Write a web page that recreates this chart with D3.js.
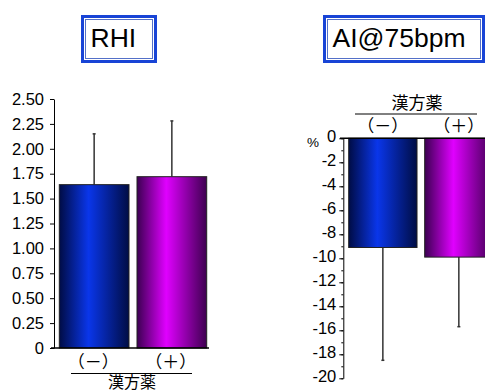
<!DOCTYPE html>
<html>
<head>
<meta charset="utf-8">
<script src="https://cdn.jsdelivr.net/npm/d3@7"></script>
<style>
  body { margin: 0; background: #fff; }
  svg { display: block; font-family: "Liberation Sans", Arial, sans-serif; }
  .tick line, .domain { stroke: #000; }
</style>
</head>
<body>
<div class="vis"></div>
<script>
// groups: without / with kampo medicine
const groups = ["（－）", "（＋）"];
const groupLabel = "漢方薬";

// RHI panel
const rhiMean = [1.64, 1.72];
const rhiSD = [0.51, 0.56];
const rhiTicks = [0, 0.25, 0.5, 0.75, 1, 1.25, 1.5, 1.75, 2, 2.25, 2.5];

// AI@75bpm panel (%)
const aiMean = [-9.1, -9.9];
const aiSD = [9.4, 5.8];
const aiTicks = [0, -2, -4, -6, -8, -10, -12, -14, -16, -18, -20];

const colors = [
  ["#000c45", "#0a36ea", "#000d45"],
  ["#3c0052", "#e000ff", "#3e0050"]
];

const width = 485, height = 391;
const svg = d3.select(".vis").append("svg")
  .attr("width", width).attr("height", height);

// gradients for the bars
const defs = svg.append("defs");
colors.forEach((c, i) => {
  const g = defs.append("linearGradient")
    .attr("id", "grad" + i)
    .attr("x1", 0).attr("x2", 1).attr("y1", 0).attr("y2", 0);
  g.append("stop").attr("offset", "0%").attr("stop-color", c[0]);
  g.append("stop").attr("offset", "42%").attr("stop-color", c[1]);
  g.append("stop").attr("offset", "100%").attr("stop-color", c[2]);
});

function titleBox(x, y, w, h, text) {
  svg.append("rect").attr("x", x + 1.5).attr("y", y + 1.5)
    .attr("width", w - 3).attr("height", h - 3)
    .attr("fill", "#fff").attr("stroke", "#1844d6").attr("stroke-width", 3);
  svg.append("rect").attr("x", x + 4.5).attr("y", y + 4.5)
    .attr("width", w - 9).attr("height", h - 9)
    .attr("fill", "none").attr("stroke", "#5470c8").attr("stroke-width", 1);
  svg.append("text").attr("x", x + 9.5).attr("y", y + 32)
    .attr("font-size", "26.5px").attr("fill", "#000").text(text);
}

titleBox(81, 15, 76, 48, "RHI");
titleBox(323, 15, 162, 48, "AI@75bpm");

const kanjiFont = "'Noto Sans CJK JP', sans-serif";

// ---------- left panel: RHI ----------
const x1 = d3.scaleBand().domain(groups)
  .range([59.3, 206.7]).paddingInner(0.103).paddingOuter(0);
const y1 = d3.scaleLinear().domain([0, 2.5]).range([348, 99]);

const left = svg.append("g");

// error bars (upward)
left.selectAll(".err").data(groups).enter().append("line")
  .attr("x1", d => x1(d) + x1.bandwidth() / 2)
  .attr("x2", d => x1(d) + x1.bandwidth() / 2)
  .attr("y1", (d, i) => y1(rhiMean[i]))
  .attr("y2", (d, i) => y1(rhiMean[i] + rhiSD[i]))
  .attr("stroke", "#333").attr("stroke-width", 1.5);
left.selectAll(".cap").data(groups).enter().append("line")
  .attr("x1", d => x1(d) + x1.bandwidth() / 2 - 1.5)
  .attr("x2", d => x1(d) + x1.bandwidth() / 2 + 1.5)
  .attr("y1", (d, i) => y1(rhiMean[i] + rhiSD[i]))
  .attr("y2", (d, i) => y1(rhiMean[i] + rhiSD[i]))
  .attr("stroke", "#333").attr("stroke-width", 1.5);

left.selectAll(".bar").data(groups).enter().append("rect")
  .attr("x", d => x1(d))
  .attr("width", x1.bandwidth())
  .attr("y", (d, i) => y1(rhiMean[i]))
  .attr("height", (d, i) => y1(0) - y1(rhiMean[i]))
  .attr("fill", (d, i) => "url(#grad" + i + ")")
  .attr("stroke", "#222").attr("stroke-width", 1);

left.append("g")
  .attr("transform", "translate(54,0)")
  .call(d3.axisLeft(y1).tickValues(rhiTicks).tickSize(4).tickSizeOuter(0)
    .tickPadding(6)
    .tickFormat(d => d === 0 ? "0" : d3.format(".2f")(d)))
  .call(g => g.selectAll("text").attr("font-size", "16.5px").attr("fill", "#000")
    .attr("font-family", "'Liberation Sans', Arial, sans-serif"));

left.append("line")
  .attr("x1", 51).attr("x2", 209).attr("y1", y1(0)).attr("y2", y1(0))
  .attr("stroke", "#000").attr("stroke-width", 1.5);

left.selectAll(".glab").data(groups).enter().append("text")
  .attr("x", d => x1(d) + x1.bandwidth() / 2 - 1)
  .attr("y", 368)
  .attr("text-anchor", "middle")
  .attr("font-family", kanjiFont).attr("font-size", "17px")
  .text(d => d);
left.append("line")
  .attr("x1", 71).attr("x2", 192).attr("y1", 373.5).attr("y2", 373.5)
  .attr("stroke", "#000").attr("stroke-width", 1);
left.append("text")
  .attr("x", 132).attr("y", 387.5)
  .attr("text-anchor", "middle")
  .attr("font-family", kanjiFont).attr("font-size", "16px")
  .text(groupLabel);

// ---------- right panel: AI@75bpm ----------
const x2 = d3.scaleBand().domain(groups)
  .range([348.7, 493]).paddingInner(0.101).paddingOuter(0);
const y2 = d3.scaleLinear().domain([0, -20]).range([138.3, 378.3]);

const right = svg.append("g");

// error bars (downward)
right.selectAll(".err").data(groups).enter().append("line")
  .attr("x1", d => x2(d) + x2.bandwidth() / 2)
  .attr("x2", d => x2(d) + x2.bandwidth() / 2)
  .attr("y1", (d, i) => y2(aiMean[i]))
  .attr("y2", (d, i) => y2(aiMean[i] - aiSD[i]))
  .attr("stroke", "#333").attr("stroke-width", 1.5);
right.selectAll(".cap").data(groups).enter().append("line")
  .attr("x1", d => x2(d) + x2.bandwidth() / 2 - 1.5)
  .attr("x2", d => x2(d) + x2.bandwidth() / 2 + 1.5)
  .attr("y1", (d, i) => y2(aiMean[i] - aiSD[i]))
  .attr("y2", (d, i) => y2(aiMean[i] - aiSD[i]))
  .attr("stroke", "#333").attr("stroke-width", 1.5);

right.selectAll(".bar").data(groups).enter().append("rect")
  .attr("x", d => x2(d))
  .attr("width", x2.bandwidth())
  .attr("y", y2(0))
  .attr("height", (d, i) => y2(aiMean[i]) - y2(0))
  .attr("fill", (d, i) => "url(#grad" + i + ")")
  .attr("stroke", "#222").attr("stroke-width", 1);

// minor ticks at odd values
right.append("g")
  .attr("transform", "translate(343.3,0)")
  .call(d3.axisLeft(y2).ticks(20).tickSize(2).tickSizeOuter(0).tickFormat(""))
  .call(g => g.select(".domain").remove());

right.append("g")
  .attr("transform", "translate(343.3,0)")
  .call(d3.axisLeft(y2).tickValues(aiTicks).tickSize(4).tickSizeOuter(0)
    .tickPadding(3))
  .call(g => g.selectAll("text").attr("font-size", "16.5px").attr("fill", "#000")
    .attr("dy", "0.2em")
    .attr("font-family", "'Liberation Sans', Arial, sans-serif")
    .text(d => d < 0 ? "-" + Math.abs(d) : d));

right.append("line")
  .attr("x1", 340).attr("x2", 485).attr("y1", y2(0)).attr("y2", y2(0))
  .attr("stroke", "#000").attr("stroke-width", 1.5);

right.append("text")
  .attr("x", 307).attr("y", 146.5)
  .attr("font-size", "13.5px").text("%");

right.selectAll(".glab").data(groups).enter().append("text")
  .attr("x", d => x2(d) + x2.bandwidth() / 2)
  .attr("y", 132)
  .attr("text-anchor", "middle")
  .attr("font-family", kanjiFont).attr("font-size", "17px")
  .text(d => d);
right.append("line")
  .attr("x1", 355).attr("x2", 477).attr("y1", 114).attr("y2", 114)
  .attr("stroke", "#000").attr("stroke-width", 1);
right.append("text")
  .attr("x", 417).attr("y", 109)
  .attr("text-anchor", "middle")
  .attr("font-family", kanjiFont).attr("font-size", "17px")
  .text(groupLabel);
</script>
</body>
</html>
